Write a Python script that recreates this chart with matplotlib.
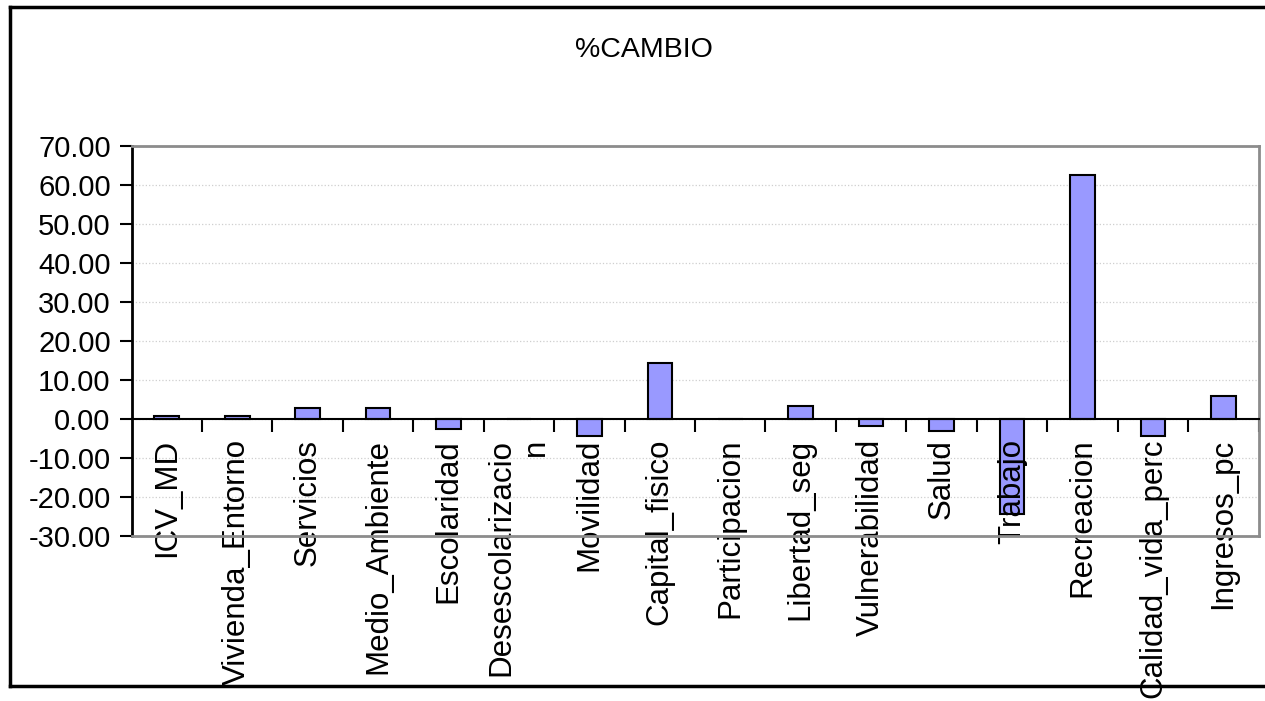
import matplotlib
matplotlib.use("Agg")
import matplotlib.pyplot as plt
from matplotlib.lines import Line2D
import numpy as np

# datos
categorias = ["ICV_MD", "Vivienda_Entorno", "Servicios", "Medio_Ambiente",
              "Escolaridad", "Desescolarizacio\nn", "Movilidad", "Capital_fisico",
              "Participacion", "Libertad_seg", "Vulnerabilidad", "Salud",
              "Trabajo", "Recreacion", "Calidad_vida_perc", "Ingresos_pc"]
cambio = [0.7, 0.6, 2.8, 2.8, -2.6, 0.0, -4.5, 14.2,
          0.0, 3.3, -1.9, -3.2, -24.4, 62.5, -4.4, 5.9]
y_ticks = [-30, -20, -10, 0, 10, 20, 30, 40, 50, 60, 70]

plt.rcParams['axes.unicode_minus'] = False
fuente = ['Liberation Sans', 'DejaVu Sans']

fig = plt.figure(figsize=(12.65, 7.01), dpi=100)
ax = fig.add_axes([0.104, 0.2358, 0.8909, 0.5559])

x = np.arange(len(categorias))
ax.bar(x, cambio, width=0.35, color='#9999FF', edgecolor='black', linewidth=1.5, zorder=3)

ax.set_xlim(-0.5, len(categorias) - 0.5)
ax.set_ylim(-30, 70)
ax.set_yticks(y_ticks)
ax.set_yticklabels(['%.2f' % v for v in y_ticks], family=fuente, fontsize=21)
ax.tick_params(axis='y', direction='out', length=9, width=1.5, color='black', pad=6)
ax.yaxis.grid(True, color='#cfcfcf', linestyle=':', linewidth=0.9, zorder=0)
ax.set_axisbelow(True)

# eje x cruzando en cero, marcas entre categorias
ax.spines['bottom'].set_position(('data', 0))
ax.spines['bottom'].set_color('black')
ax.spines['bottom'].set_linewidth(1.5)
ax.spines['bottom'].set_zorder(4)
ax.set_xticks(np.arange(0.5, len(categorias) - 0.4, 1.0))
ax.set_xticklabels([])
ax.tick_params(axis='x', direction='out', length=9, width=1.5, color='black')

ax.spines['left'].set_color('black')
ax.spines['left'].set_linewidth(2)
for s in ['top', 'right']:
    ax.spines[s].set_color('#8c8c8c')
    ax.spines[s].set_linewidth(2)
ax.axhline(-30, color='#8c8c8c', linewidth=2, clip_on=False, zorder=6)

for i, lab in enumerate(categorias):
    ax.annotate(lab, xy=(i, 0), xytext=(0, -20), textcoords='offset pixels',
                rotation=90, ha='center', va='top', multialignment='right',
                family=fuente, fontsize=22.5, zorder=5, annotation_clip=False)

fig.text(0.509, 1 - 50 / 701, '%CAMBIO', ha='center', va='center',
         family=fuente, fontsize=20.5)

# marco del grafico
W, H = 1265.0, 701.0
x0, y0, y1 = 10 / W, 1 - 686 / H, 1 - 7 / H
fig.add_artist(Line2D([x0, 1.0], [y1, y1], color='black', linewidth=2.5))
fig.add_artist(Line2D([x0, x0], [y0, y1], color='black', linewidth=2.5))
fig.add_artist(Line2D([x0, 1.0], [y0, y0], color='black', linewidth=2.5))

fig.savefig('out.png', dpi=100)
